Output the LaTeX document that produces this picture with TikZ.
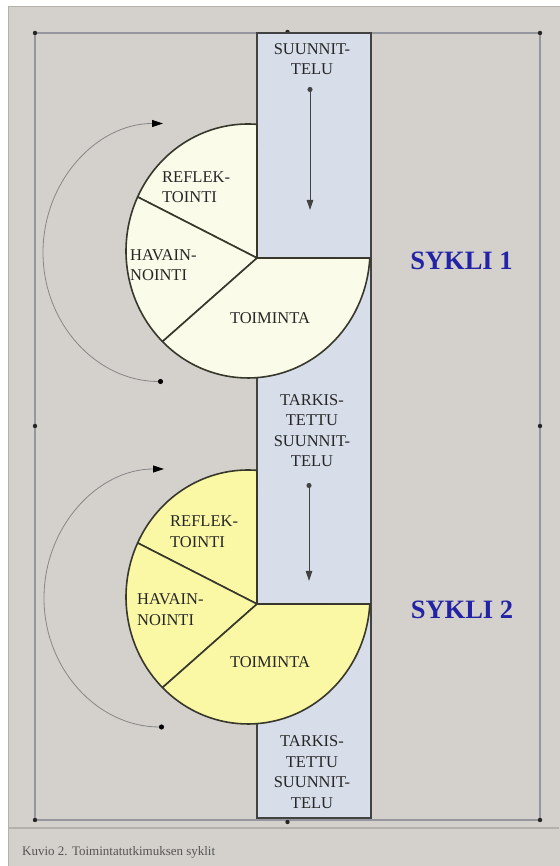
\documentclass[tikz,border=0pt]{standalone}
\usepackage{fontspec}
\setmainfont{Liberation Serif}
\usetikzlibrary{arrows.meta}

\definecolor{panel}{RGB}{212,209,204}
\definecolor{panelline}{RGB}{180,177,173}
\definecolor{framegray}{RGB}{150,150,158}
\definecolor{colfill}{RGB}{216,222,233}
\definecolor{colline}{RGB}{66,66,66}
\definecolor{pieA}{RGB}{250,251,232}
\definecolor{pieB}{RGB}{250,248,165}
\definecolor{pieline}{RGB}{55,55,44}
\definecolor{txt}{RGB}{38,38,38}
\definecolor{syklib}{RGB}{35,35,165}
\definecolor{arcgray}{RGB}{135,135,135}
\definecolor{captxt}{RGB}{85,85,85}

\begin{document}
\begin{tikzpicture}[x=1pt,y=1pt,
  colbox/.style={fill=colfill, draw=colline, line width=1.8pt},
  sector/.style={draw=pieline, line width=1.6pt, line join=round},
  lbl/.style={text=txt, font=\fontsize{16.5}{20.5}\selectfont, inner sep=0pt},
  sykli/.style={text=syklib, font=\bfseries\fontsize{26.5}{30}\selectfont, inner sep=0pt},
  flow/.style={draw=colline, line width=0.8pt,
    {Circle[length=5pt]}-{Triangle[length=10pt,width=6.5pt]}},
  cyc/.style={draw=arcgray, line width=0.8pt,
    {Circle[length=5pt,color=black]}-{Triangle[length=11pt,width=7pt,color=black]}},
  handle/.style={fill=black!85}
]
% page and panel
\useasboundingbox (0,0) rectangle (559,866);
\fill[white] (0,0) rectangle (559,866);
\filldraw[fill=panel, draw=panelline, line width=1pt] (8,-1) rectangle (560,859);
\draw[panelline, line width=1.5pt] (8,38) -- (559,38);

% selection frame with its handles
\draw[framegray, line width=2pt] (35,833) rectangle (540,46);
\foreach \p in {(35,833),(287.5,834),(540,833),(35,440),(540,440),(35,46),(287.5,44),(540,46)}
  \fill[handle] \p circle (2.2pt);

% planning column
\draw[colbox] (257,262) rectangle (371,48);
\draw[colbox] (257,608) rectangle (371,262);
\draw[colbox] (257,833) rectangle (371,608);

% cycle 1 pie
\coordinate (C1) at (248,615);
\coordinate (V1) at (257,608);
\path (C1) ++(85.8:122 and 127) coordinate (T1);
\path (C1) ++(154.8:122 and 127) coordinate (U1);
\path (C1) ++(225.5:122 and 127) coordinate (L1);
\draw[sector, fill=pieA] (V1) -- (T1) arc[start angle=85.8, end angle=154.8, x radius=122, y radius=127] -- cycle;
\draw[sector, fill=pieA] (V1) -- (U1) arc[start angle=154.8, end angle=225.5, x radius=122, y radius=127] -- cycle;
\draw[sector, fill=pieA] (V1) -- (L1) arc[start angle=225.5, end angle=356.8, x radius=122, y radius=127] -- cycle;

% cycle 2 pie
\coordinate (C2) at (248,269);
\coordinate (V2) at (257,262);
\path (C2) ++(85.8:122 and 127) coordinate (T2);
\path (C2) ++(154.8:122 and 127) coordinate (U2);
\path (C2) ++(225.5:122 and 127) coordinate (L2);
\draw[sector, fill=pieB] (V2) -- (T2) arc[start angle=85.8, end angle=154.8, x radius=122, y radius=127] -- cycle;
\draw[sector, fill=pieB] (V2) -- (U2) arc[start angle=154.8, end angle=225.5, x radius=122, y radius=127] -- cycle;
\draw[sector, fill=pieB] (V2) -- (L2) arc[start angle=225.5, end angle=356.8, x radius=122, y radius=127] -- cycle;

% column texts
\node[lbl, align=center] (plan1) at (312,806.75) {SUUNNIT-\\TELU};
\node[lbl, align=center] (plan2) at (312,435.5) {TARKIS-\\TETTU\\SUUNNIT-\\TELU};
\node[lbl, align=center] (plan3) at (312,94) {TARKIS-\\TETTU\\SUUNNIT-\\TELU};

% pie texts
\node[lbl, align=left, anchor=west] (refl1) at (162,679) {REFLEK-\\TOINTI};
\node[lbl, align=left, anchor=west] (hav1) at (130,601) {HAVAIN-\\NOINTI};
\node[lbl] (toim1) at (270,547.5) {TOIMINTA};
\node[lbl, align=left, anchor=west] (refl2) at (170,334.25) {REFLEK-\\TOINTI};
\node[lbl, align=left, anchor=west] (hav2) at (137,256.5) {HAVAIN-\\NOINTI};
\node[lbl] (toim2) at (270,204) {TOIMINTA};

% cycle titles
\node[sykli] (s1) at (461.5,605) {SYKLI 1};
\node[sykli] (s2) at (462,256) {SYKLI 2};

% arrows down the column
\coordinate (D1s) at (310,779);
\coordinate (D1e) at (310,656);
\draw[flow] (D1s) -- (D1e);
\coordinate (D2s) at (309,383);
\coordinate (D2e) at (309,285);
\draw[flow] (D2s) -- (D2e);

% cycle arcs around the pies
\coordinate (A1s) at (163,484.5);
\draw[cyc] (A1s) arc[start angle=270, end angle=90, x radius=120, y radius=129];
\coordinate (A2s) at (164,139);
\draw[cyc] (A2s) arc[start angle=270, end angle=90, x radius=120, y radius=129];

% caption
\node[text=captxt, font=\fontsize{13}{15}\selectfont, anchor=west, inner sep=0pt] (cap) at (22,14) {Kuvio 2. Toimintatutkimuksen syklit};
\end{tikzpicture}
\end{document}
